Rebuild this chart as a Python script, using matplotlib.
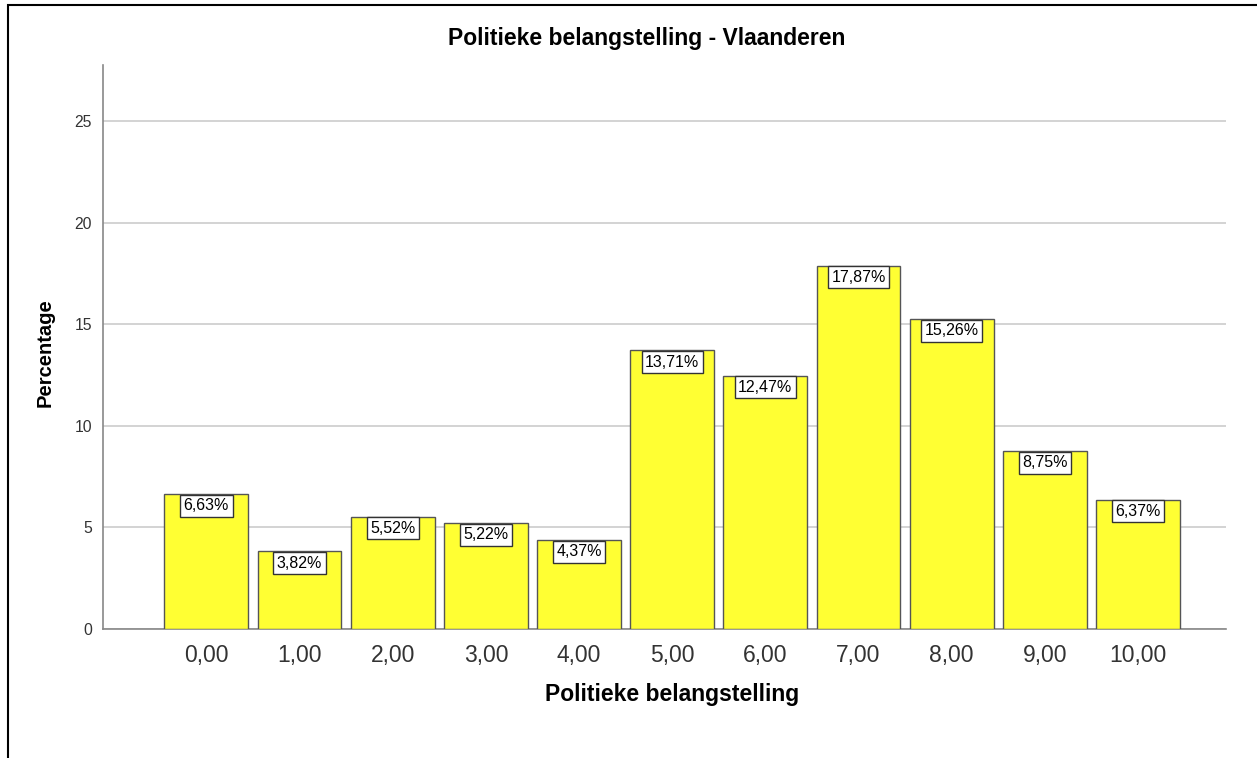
import numpy as np
import matplotlib.pyplot as plt
from matplotlib.patches import Rectangle

categories = ["0,00", "1,00", "2,00", "3,00", "4,00", "5,00",
              "6,00", "7,00", "8,00", "9,00", "10,00"]
percent = [6.63, 3.82, 5.52, 5.22, 4.37, 13.71, 12.47, 17.87, 15.26, 8.75, 6.37]
yticks = [0, 5, 10, 15, 20, 25]

plt.rcParams['font.family'] = ['Liberation Sans', 'DejaVu Sans']

fig = plt.figure(figsize=(12.57, 7.58), dpi=100)
ax = fig.add_axes([103/1257, 1 - 629/758, (1226 - 103)/1257, (629 - 65)/758])

# outer frame like the SPSS output window
fig.patches.append(Rectangle((8/1257, -0.1), 1.2, 1 - 5/758 + 0.1,
                             transform=fig.transFigure, fill=False,
                             edgecolor='black', linewidth=1.5))

x = np.arange(len(categories))
ax.bar(x, percent, width=0.9, color='#ffff33', edgecolor='#555555',
       linewidth=1.0, zorder=3)

for xi, p in zip(x, percent):
    ax.annotate(("%.2f%%" % p).replace(".", ","), xy=(xi, p),
                xytext=(0, -3), textcoords='offset points',
                ha='center', va='top', fontsize=11.5, color='black', zorder=4,
                bbox=dict(boxstyle='square,pad=0.22', facecolor='white',
                          edgecolor='#333333', linewidth=1.0))

ax.set_xlim(-1.11, 10.945)
ax.set_ylim(0, 27.75)
ax.set_xticks(x)
ax.set_xticklabels(categories, fontsize=16.5, color='#333333')
ax.set_yticks(yticks)
ax.set_yticklabels([str(t) for t in yticks], fontsize=11.3, color='#333333')
ax.tick_params(length=0, pad=8)
ax.tick_params(axis='x', pad=11)
ax.yaxis.grid(True, color='#cccccc', linewidth=1.2, zorder=0)
ax.set_axisbelow(True)

for s in ['top', 'right']:
    ax.spines[s].set_visible(False)
ax.spines['left'].set_color('#888888')
ax.spines['bottom'].set_color('#888888')
ax.spines['left'].set_linewidth(1.2)
ax.spines['bottom'].set_linewidth(1.2)

fig.text(647/1257, 1 - 38/758, "Politieke belangstelling - Vlaanderen",
         ha='center', va='center', fontsize=16.5, fontweight='bold')
fig.text(672/1257, 1 - 695/758, "Politieke belangstelling",
         ha='center', va='center', fontsize=16.5, fontweight='bold')
fig.text(45/1257, 1 - 353/758, "Percentage", rotation=90,
         ha='center', va='center', fontsize=14.5, fontweight='bold')

fig.savefig("out.png", dpi=100)
